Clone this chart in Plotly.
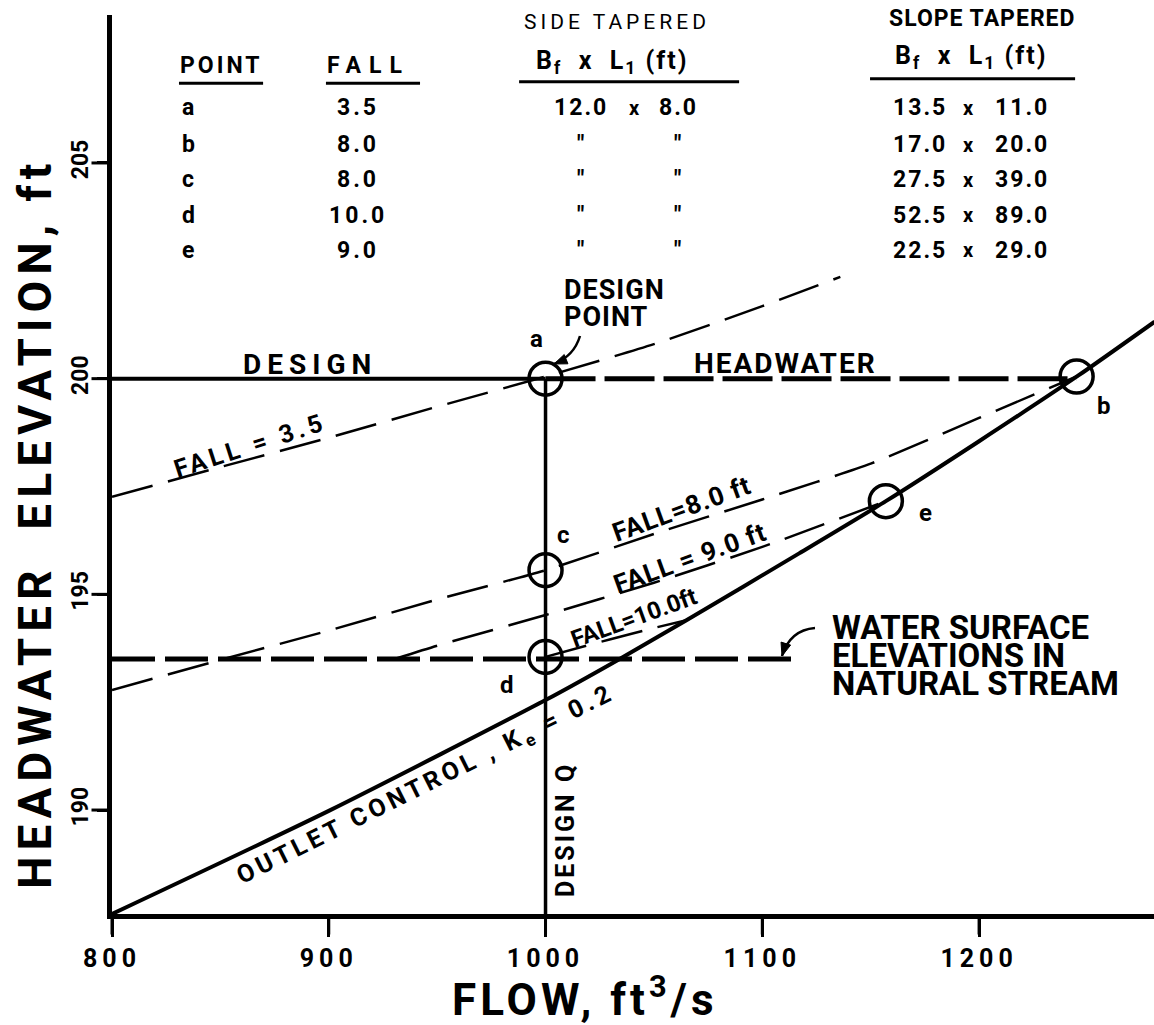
import plotly.graph_objects as go

FONT = "Roboto"

# ---- rating curves (flow in ft3/s, headwater elevation in ft) ----
outlet_flow = [800, 900, 1000, 1032, 1065, 1117, 1157, 1200, 1246, 1281]
outlet_elev = [187.59, 189.98, 192.55, 193.44, 194.40, 195.95, 197.16, 198.55, 200.08, 201.32]

fall35_flow = [800, 850, 900, 950, 1000, 1050, 1100, 1136]
fall35_elev = [197.26, 197.95, 198.63, 199.35, 200.05, 200.8, 201.68, 202.36]

fall8_flow = [800, 850, 900, 950, 1000, 1050, 1100, 1150, 1200, 1245]
fall8_elev = [192.78, 193.48, 194.16, 194.88, 195.56, 196.40, 197.2, 198.03, 199.09, 200.05]

fall9_flow = [931.5, 950, 1000, 1050, 1100, 1157]
fall9_elev = [193.52, 193.81, 194.52, 195.27, 196.1, 197.16]

fall10_flow = [1000, 1030, 1050, 1065]
fall10_elev = [193.55, 193.96, 194.22, 194.40]

# ---- design values ----
design_q = 1000
design_hw = 200.0
stream_ws = 193.5
stream_ws_end = 1116
flow_min, flow_max = 800, 1280.7
elev_min, elev_max = 187.59, 208.43

# ---- labelled points ----
point_names = ["a", "b", "c", "d", "e"]
point_flow = [1000, 1245, 1000, 1000, 1157]
point_elev = [200.0, 200.05, 195.56, 193.55, 197.16]
point_shift = {"a": (-9, 40), "b": (27, -29), "c": (18, 35), "d": (-39, -28), "e": (40, -12)}

# ---- table ----
table_fall = ["3.5", "8.0", "8.0", "10.0", "9.0"]
side_bf = ["12.0", '"', '"', '"', '"']
side_l1 = ["8.0", '"', '"', '"', '"']
slope_bf = ["13.5", "17.0", "27.5", "52.5", "22.5"]
slope_l1 = ["11.0", "20.0", "39.0", "89.0", "29.0"]
table_rows_elev = [206.28, 205.42, 204.61, 203.79, 202.98]

x_ticks = [800, 900, 1000, 1100, 1200]
y_ticks = [190, 195, 200, 205]

# plot-area geometry, used to place the hand-drawn leaders and tick marks
PLOT_L, PLOT_T, PLOT_W, PLOT_H = 112, 15, 1042, 899
TICK_LEN = 18
AXIS_W = 5


def px_x(px):
    return flow_min + (px - PLOT_L) / PLOT_W * (flow_max - flow_min)


def px_y(py):
    return elev_max - (py - PLOT_T) / PLOT_H * (elev_max - elev_min)


def frac_x(v):
    return (v - flow_min) / (flow_max - flow_min)


def frac_y(v):
    return (v - elev_min) / (elev_max - elev_min)


fig = go.Figure()


def line(x, y, width, dash="solid", shape="linear"):
    fig.add_trace(go.Scatter(x=x, y=y, mode="lines", hoverinfo="skip",
                             line=dict(color="black", width=width, dash=dash,
                                       shape=shape, smoothing=0.6)))


FALL_DASH = "42px,16px"

# design headwater: solid up to the design point, heavy dashes beyond it
line([flow_min, design_q], [design_hw, design_hw], 4)
line([design_q, point_flow[1]], [design_hw, design_hw], 5, "50px,9px")
# design discharge
line([design_q, design_q], [elev_min, design_hw], 3.5)
# natural stream water surface
line([flow_min, stream_ws_end], [stream_ws, stream_ws], 5, "43px,10px")
# fall curves
line(fall35_flow, fall35_elev, 2.5, FALL_DASH, "spline")
line(fall8_flow, fall8_elev, 2.5, FALL_DASH, "spline")
line(fall9_flow, fall9_elev, 2.5, FALL_DASH, "spline")
line(fall10_flow, fall10_elev, 2.5, FALL_DASH, "spline")
# outlet control
line(outlet_flow, outlet_elev, 4, shape="spline")

fig.add_trace(go.Scatter(
    x=point_flow, y=point_elev, mode="markers", hoverinfo="skip",
    marker=dict(symbol="circle-open", size=33, color="black", line=dict(width=3.5, color="black")),
))

ann = []


def spaced(text, spacing):
    return f'<span style="letter-spacing:{spacing}px">{text}</span>' if spacing else text


def label(text, x, y, size, angle=0, spacing=0, xanchor="center", yanchor="middle",
          xshift=0, yshift=0, ref="data", weight="bold"):
    ann.append(dict(
        text=spaced(text, spacing), x=x, y=y, xref="x" if ref == "data" else "paper",
        yref="y" if ref == "data" else "paper", showarrow=False, textangle=angle,
        xanchor=xanchor, yanchor=yanchor, xshift=xshift, yshift=yshift,
        font=dict(family=FONT, size=size, color="black", weight=weight),
    ))


# point letters
for name, fx, ey in zip(point_names, point_flow, point_elev):
    dx, dy = point_shift[name]
    label(name, fx, ey, 24, xshift=dx, yshift=dy)

# table
label("POINT", 850.3, 207.25, 23, spacing=3)
label("FALL", 918.1, 207.25, 23, spacing=8)
label("SIDE TAPERED", 1033.0, 208.27, 21, spacing=4, weight="normal")
label("B<sub>f</sub>  x  L<sub>1</sub> (ft)", 1030.7, 207.35, 25, spacing=2)
label("SLOPE TAPERED", 1201.8, 208.36, 23, spacing=1)
label("B<sub>f</sub>  x  L<sub>1</sub> (ft)", 1196.3, 207.46, 25, spacing=2)
for i, ey in enumerate(table_rows_elev):
    label(point_names[i], 835.1, ey, 23)
    label(table_fall[i], 913.5, ey, 23, spacing=3)
    label(side_bf[i], 1016.5, ey, 23, spacing=2)
    label(side_l1[i], 1061.5, ey, 23, spacing=2)
    if side_bf[i] != '"':
        label("x", 1041.0, ey, 20)
    label(slope_bf[i], 1172.8, ey, 23, spacing=2)
    label("x", 1194.9, ey, 20)
    label(slope_l1[i], 1219.8, ey, 23, spacing=2)

underlines = [(830.9, 869.7, 206.85), (898.7, 942.1, 206.85),
              (987.8, 1089.3, 206.88), (1149.7, 1244.3, 206.95)]
shapes = [dict(type="line", xref="x", yref="y", x0=a, x1=b, y0=y, y1=y,
               line=dict(color="black", width=3)) for a, b, y in underlines]

# tick marks on the outside of both axes (paper coordinates so they sit in the margin)
for v in x_ticks:
    shapes.append(dict(type="line", xref="paper", yref="paper", x0=frac_x(v), x1=frac_x(v),
                       y0=0, y1=-(TICK_LEN + AXIS_W / 2) / PLOT_H,
                       line=dict(color="black", width=3)))
for v in y_ticks:
    shapes.append(dict(type="line", xref="paper", yref="paper", x0=0,
                       x1=-(TICK_LEN + AXIS_W / 2) / PLOT_W, y0=frac_y(v), y1=frac_y(v),
                       line=dict(color="black", width=3)))

# curve labels
label("DESIGN", 891.35, 200.32, 28, spacing=6)
label("HEADWATER", 1110.5, 200.36, 28, spacing=2)
label("DESIGN", 1007.6, 202.05, 27, xanchor="left", spacing=1)
label("POINT", 1007.6, 201.42, 27, xanchor="left", spacing=1)
label("FALL = 3.5", 863.7, 198.46, 25, angle=-18, spacing=4)
label("FALL=8.0 ft", 1062.5, 196.98, 26, angle=-20, spacing=1)
label("FALL = 9.0 ft", 1066.7, 195.84, 26, angle=-20, spacing=1)
label("FALL=10.0ft", 1040.8, 194.45, 24, angle=-20)
label("OUTLET CONTROL , K<sub>e</sub> = 0.2", 944.9, 190.58, 25, angle=-26.5, spacing=4)
label("DESIGN Q", 1009.5, 189.54, 25, angle=-90, spacing=3)
label("WATER SURFACE", 1131.3, 194.24, 33, xanchor="left")
label("ELEVATIONS IN", 1131.3, 193.59, 33, xanchor="left")
label("NATURAL STREAM", 1131.3, 192.94, 33, xanchor="left")


def leader(tail, ctrl, tip, head_len=13, head_half=5):
    """Curved leader line ending in a filled arrowhead (pixel geometry)."""
    shapes.append(dict(
        type="path", xref="x", yref="y",
        path=f"M {px_x(tail[0])},{px_y(tail[1])} Q {px_x(ctrl[0])},{px_y(ctrl[1])} "
             f"{px_x(tip[0])},{px_y(tip[1])}",
        line=dict(color="black", width=2.5)))
    dx, dy = tip[0] - ctrl[0], tip[1] - ctrl[1]
    n = (dx * dx + dy * dy) ** 0.5
    ux, uy = dx / n, dy / n
    bx, by = tip[0] - ux * head_len, tip[1] - uy * head_len
    p1 = (bx - uy * head_half, by + ux * head_half)
    p2 = (bx + uy * head_half, by - ux * head_half)
    shapes.append(dict(
        type="path", xref="x", yref="y",
        path=f"M {px_x(tip[0])},{px_y(tip[1])} L {px_x(p1[0])},{px_y(p1[1])} "
             f"L {px_x(p2[0])},{px_y(p2[1])} Z",
        fillcolor="black", line=dict(color="black", width=1)))


leader((580, 336), (574, 356), (554, 364))
leader((815, 628), (790, 630), (782, 656))

# axis titles
label("HEADWATER  ELEVATION, ft", -0.0739, 0.435, 46, angle=-90, spacing=6, ref="paper")
label("FLOW, ft<sup>3</sup>/s", 0.453, -0.092, 44, spacing=4, ref="paper")

fig.update_layout(
    width=1154, height=1025,
    margin=dict(l=112, r=0, t=15, b=111, pad=0),
    plot_bgcolor="white", paper_bgcolor="white",
    showlegend=False,
    annotations=ann, shapes=shapes,
    xaxis=dict(range=[flow_min, flow_max], tickmode="array", tickvals=x_ticks,
               ticktext=[spaced(str(v), 5) for v in x_ticks],
               ticks="outside", ticklen=TICK_LEN, tickwidth=3, tickcolor="black",
               showline=True, linewidth=AXIS_W, linecolor="black",
               showgrid=False, zeroline=False,
               tickfont=dict(family=FONT, size=25, color="black", weight="bold")),
    yaxis=dict(range=[elev_min, elev_max], tickmode="array", tickvals=y_ticks,
               ticks="outside", ticklen=10, tickwidth=3, tickcolor="black",
               showline=True, linewidth=AXIS_W, linecolor="black",
               showgrid=False, zeroline=False, tickangle=-90,
               tickfont=dict(family=FONT, size=23, color="black", weight="bold")),
)

fig.write_html("out.html")
